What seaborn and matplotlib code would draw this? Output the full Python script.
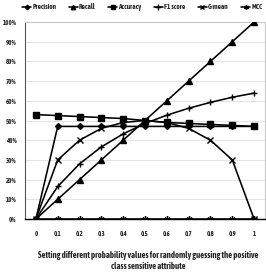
import matplotlib
matplotlib.use("Agg")
import matplotlib.pyplot as plt
from matplotlib import font_manager
import seaborn as sns
import pandas as pd
import numpy as np

categories = ["0", "0.1", "0.2", "0.3", "0.4", "0.5", "0.6", "0.7", "0.8", "0.9", "1"]
precision = [0, 47, 47, 47, 47, 47, 47, 47, 47, 47, 47]
recall = [0, 10, 20, 30, 40, 50, 60, 70, 80, 90, 100]
accuracy = [53, 52.5, 52, 51.5, 51, 50, 49, 48.5, 48, 47.5, 47]
f1_score = [0, 16.5, 28, 36.6, 43.2, 48.5, 52.7, 56.2, 59.2, 61.8, 63.9]
g_mean = [0, 30, 40, 46, 49, 50, 49, 46, 40, 30, 0]
mcc = [0, 0, 0, 0, 0, 0, 0, 0, 0, 0, 0]
metric_names = ["Precision", "Recall", "Accuracy", "F1 score", "G-mean", "MCC"]
y_tick_labels = ["0%", "10%", "20%", "30%", "40%", "50%", "60%", "70%", "80%", "90%", "100%"]
x_label = "Setting different probability values for randomly guessing the positive\nclass sensitive attribute"

series_values = [precision, recall, accuracy, f1_score, g_mean, mcc]
markers = ["D", "^", "s", "+", "x", (6, 2, 0)]
msizes = [3.0, 4.2, 3.8, 5.0, 4.2, 4.6]

sns.set_theme(style="white")
avail = {f.name for f in font_manager.fontManager.ttflist}
fam = None
for cand in ["Asap Condensed", "Archivo Narrow", "Roboto Condensed", "Liberation Sans Narrow", "Carlito"]:
    if cand in avail:
        fam = cand
        break
plt.rcParams['font.family'] = ([fam] if fam else []) + ['DejaVu Sans']

W, H = 266, 273
fig = plt.figure(figsize=(W / 100, H / 100), dpi=100)
L, R, T, B = 25, 265, 22, 219
ax = fig.add_axes([L / W, 1 - B / H, (R - L) / W, (B - T) / H])

rows = []
for name, vals in zip(metric_names, series_values):
    for i, v in enumerate(vals):
        rows.append({"x": i, "y": v / 100.0, "metric": name})
df = pd.DataFrame(rows)

for name, mk, ms in zip(metric_names, markers, msizes):
    sub = df[df.metric == name]
    sns.lineplot(data=sub, x="x", y="y", ax=ax, color="black", lw=1.15,
                 marker=mk, markersize=ms,
                 markeredgecolor="black", markerfacecolor="black",
                 markeredgewidth=1.0, label=name, zorder=3)

ax.set_xlim(-0.5, len(categories) - 0.5)
ax.set_ylim(0, 1.0)
ax.set_yticks(np.linspace(0, 1, len(y_tick_labels)))
ax.set_yticklabels(y_tick_labels, fontsize=5, fontweight='bold')
ax.set_xticks(np.arange(len(categories)))
ax.set_xticklabels(categories, fontsize=5, fontweight='bold')
ax.tick_params(axis='y', length=0, pad=6)
ax.tick_params(axis='x', length=0, pad=8)
ax.yaxis.grid(True, color="#e3e3e3", lw=0.8)
ax.set_axisbelow(True)
for s in ["top", "right"]:
    ax.spines[s].set_color("#c8c8c8")
    ax.spines[s].set_linewidth(0.8)
ax.spines["left"].set_color("#555555")
ax.spines["left"].set_linewidth(0.8)
ax.spines["bottom"].set_color("black")
ax.spines["bottom"].set_linewidth(1.0)
ax.set_xlabel("")
ax.set_ylabel("")
if ax.get_legend():
    ax.get_legend().remove()

renderer = fig.canvas.get_renderer()

def fit(t, target_w):
    w = t.get_window_extent(renderer).width
    t.set_fontsize(t.get_fontsize() * target_w / w)

fig.canvas.draw()
ylab100 = ax.get_yticklabels()[-1]
fit(ylab100, 14)
ysz = ylab100.get_fontsize()
for t in ax.get_yticklabels():
    t.set_fontsize(ysz)
for t in ax.get_xticklabels():
    t.set_fontsize(ysz)

xl = fig.text(148.5 / W, 1 - 260.8 / H, x_label, ha="center", va="center",
              fontsize=5.5, fontweight="bold", linespacing=1.3)
fit(xl, 221)

probe = fig.text(0, 0, "Precision", fontsize=5.5, fontweight="bold")
fit(probe, 24)
lfs = probe.get_fontsize()
probe.remove()
px_per_fs = lfs * 100 / 72
handles, labels = ax.get_legend_handles_labels()
leg = fig.legend(handles[:6], labels[:6], loc="center left",
                 bbox_to_anchor=(22 / W, 1 - 7 / H), bbox_transform=fig.transFigure,
                 ncol=6, frameon=False, prop={"weight": "bold", "size": lfs},
                 handlelength=9 / px_per_fs, handletextpad=1.2 / px_per_fs,
                 columnspacing=12.5 / px_per_fs, borderaxespad=0, borderpad=0,
                 markerscale=0.75)

fig.savefig("out.png", dpi=100)
